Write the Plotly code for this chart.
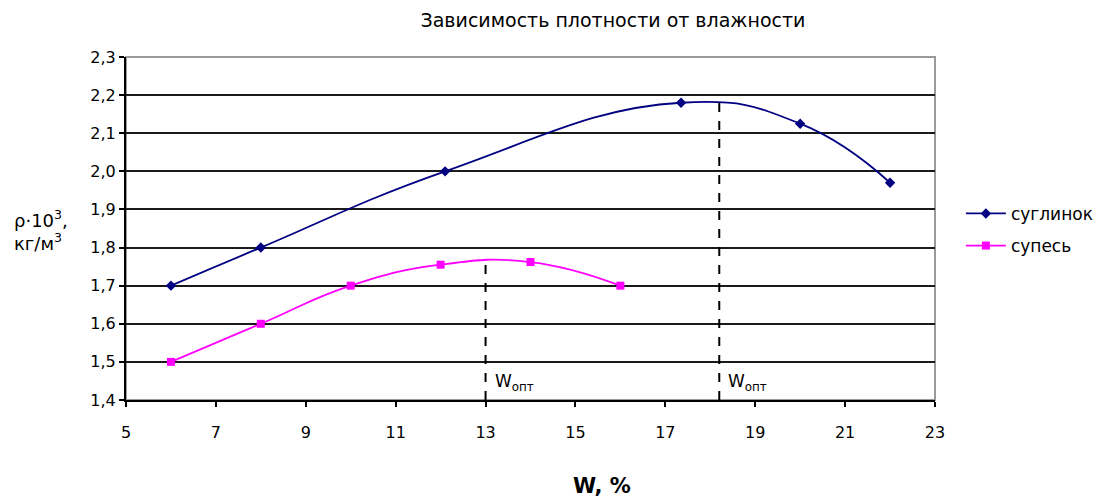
import plotly.graph_objects as go

# Data
w_sugl = [6, 8, 12.1, 17.35, 20, 22]
rho_sugl = [1.70, 1.80, 2.00, 2.18, 2.125, 1.97]
w_sup = [6, 8, 10, 12, 14, 16]
rho_sup = [1.50, 1.60, 1.70, 1.755, 1.762, 1.70]
w_opt = [13, 18.2]
rho_opt = [1.767, 2.19]
x_ticks = [5, 7, 9, 11, 13, 15, 17, 19, 21, 23]
y_ticks = [1.4, 1.5, 1.6, 1.7, 1.8, 1.9, 2.0, 2.1, 2.2, 2.3]

FONT = "DejaVu Sans, Arial, sans-serif"

fig = go.Figure()
fig.add_trace(go.Scatter(
    x=w_sugl, y=rho_sugl, name="суглинок", mode="lines+markers", legendgroup="a",
    line=dict(color="#000080", width=1.8, shape="spline", smoothing=1.3),
    marker=dict(symbol="diamond", size=8, color="#000080"),
))
fig.add_trace(go.Scatter(
    x=w_sup, y=rho_sup, name="супесь", mode="lines+markers", legendgroup="b",
    line=dict(color="#FF00FF", width=1.8, shape="spline", smoothing=1.3),
    marker=dict(symbol="square", size=8, color="#FF00FF"),
))

# dashed optimum lines
for xv, yv in zip(w_opt, rho_opt):
    fig.add_trace(go.Scatter(
        x=[xv, xv], y=[1.4, yv], mode="lines", showlegend=False,
        line=dict(color="black", width=2, dash="dash"), hoverinfo="skip",
    ))
    fig.add_annotation(x=xv, y=1.445, xref="x", yref="y", xanchor="left", yanchor="middle",
                       xshift=7, showarrow=False,
                       text="W<sub>опт</sub>", font=dict(family=FONT, size=17, color="black"))

# plot border (gray top/right)
fig.add_shape(type="rect", xref="paper", yref="paper", x0=0, y0=0, x1=1, y1=1,
              line=dict(color="#9a9a9a", width=2), layer="below")

fig.update_layout(
    width=1108, height=491,
    margin=dict(l=118, r=181, t=49, b=99),
    paper_bgcolor="white", plot_bgcolor="white",
    separators=", ",
    font=dict(family=FONT, size=14, color="black"),
    title=dict(text="Зависимость плотности от влажности", x=0.546, xanchor="center",
               y=0.975, yanchor="middle", font=dict(family=FONT, size=19, color="black")),
    showlegend=True,
    legend=dict(x=1.032, y=0.595, xanchor="left", yanchor="top", traceorder="grouped",
                font=dict(family=FONT, size=17, color="black"),
                bgcolor="rgba(0,0,0,0)", tracegroupgap=7, itemwidth=40),
    xaxis=dict(range=[5, 23], tickvals=x_ticks, ticks="outside", ticklen=5, tickwidth=2,
               tickcolor="black", showline=True, linecolor="black", linewidth=2,
               showgrid=False, zeroline=False, ticklabelstandoff=12,
               tickfont=dict(family=FONT, size=16, color="black")),
    yaxis=dict(range=[1.4, 2.3], tickvals=y_ticks, tickformat=".1f", ticks="outside",
               ticklen=5, tickwidth=2, tickcolor="black", showline=True, linecolor="black",
               linewidth=2, showgrid=True, gridcolor="#1a1a1a", gridwidth=1.8,
               zeroline=False, tickfont=dict(family=FONT, size=16, color="black")),
)

fig.add_annotation(x=0.588, y=-0.25, xref="paper", yref="paper", showarrow=False,
                   text="<b>W, %</b>", font=dict(family=FONT, size=21, color="black"),
                   xanchor="center", yanchor="middle")
fig.add_annotation(x=-0.105, y=0.493, xref="paper", yref="paper", showarrow=False,
                   text="ρ·10<sup>3</sup>,<br>кг/м<sup>3</sup>",
                   font=dict(family=FONT, size=18, color="black"),
                   xanchor="center", yanchor="middle", align="left")

fig.write_html("out.html")
